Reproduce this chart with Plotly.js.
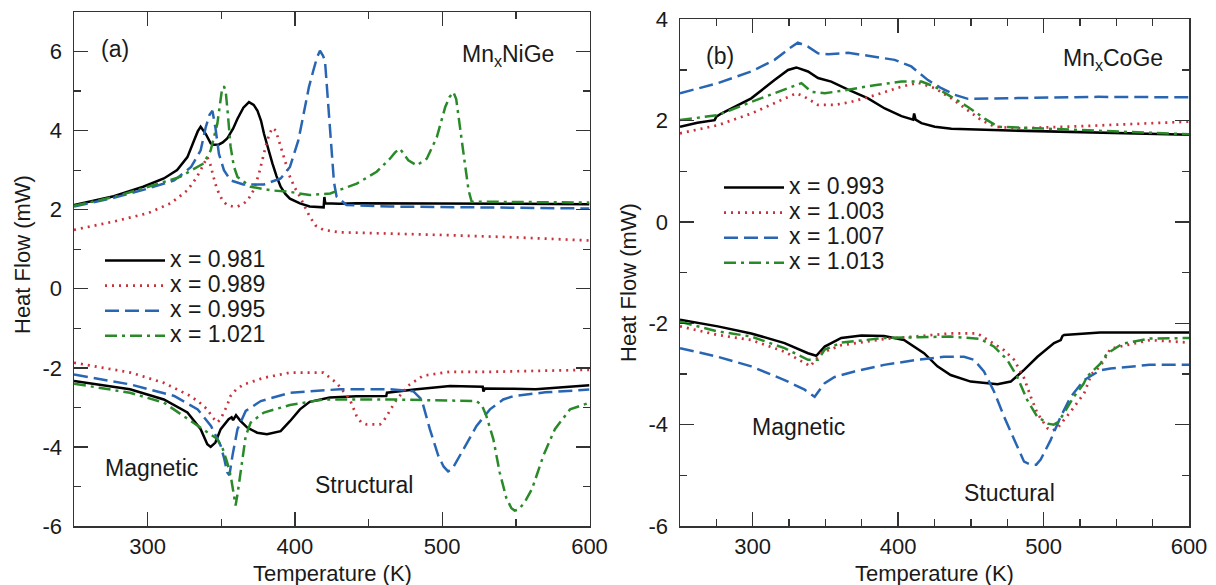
<!DOCTYPE html>
<html>
<head>
<meta charset="utf-8">
<script src="https://cdn.plot.ly/plotly-3.0.1.min.js"></script>
<style>html,body{margin:0;padding:0;background:#fff;}#chart{width:1216px;height:585px;}</style>
</head>
<body>
<div id="chart"></div>
<script>
// ===== Panel (a): MnxNiGe =====
const labelsA = ["x = 0.981", "x = 0.989", "x = 0.995", "x = 1.021"];
// x = 0.981 (upper / lower branch)
const tA981Up = [250, 277, 297, 311, 320, 327, 331.5, 334, 336, 339.4, 342.8, 345, 348.4, 351, 354, 358, 361, 365, 368.8, 372, 374.5, 377, 379, 382, 384.7, 387.5, 390.3, 393.5, 396.6, 403.4, 410, 419.5, 420, 420.6, 430, 442, 500, 550, 600];
const hA981Up = [2.12, 2.34, 2.58, 2.79, 3.0, 3.33, 3.75, 3.98, 4.1, 3.92, 3.68, 3.64, 3.65, 3.7, 3.8, 4.05, 4.3, 4.58, 4.72, 4.65, 4.51, 4.25, 3.92, 3.5, 3.17, 2.85, 2.58, 2.4, 2.28, 2.16, 2.08, 2.06, 2.32, 2.16, 2.15, 2.16, 2.16, 2.15, 2.14];
const tA981Dn = [250, 288, 311, 327, 336, 340.5, 342.8, 346, 349.6, 353, 355, 357, 358, 360, 363, 367.6, 374.4, 381, 390.3, 396.6, 403.4, 410, 423.7, 441.9, 462, 462.5, 482.7, 505.3, 527.5, 528, 529, 548.6, 563.5, 600];
const hA981Dn = [-2.33, -2.54, -2.8, -3.13, -3.55, -3.93, -4.0, -3.89, -3.55, -3.38, -3.3, -3.25, -3.32, -3.2, -3.34, -3.51, -3.64, -3.68, -3.6, -3.35, -3.05, -2.86, -2.75, -2.72, -2.71, -2.63, -2.54, -2.46, -2.48, -2.6, -2.52, -2.53, -2.54, -2.44];
// x = 0.989
const tA989Up = [250, 277, 300, 315.6, 327, 333, 336, 338.5, 340.5, 342.5, 344, 346, 348.4, 351, 354, 358, 361, 365, 368, 372, 375.6, 378, 380, 382.5, 384.7, 387, 389, 393, 396.6, 400, 403.4, 407, 410, 414, 419.3, 430, 442, 500, 550, 600];
const hA989Up = [1.49, 1.70, 1.91, 2.16, 2.49, 2.8, 3.0, 3.2, 3.33, 3.15, 2.91, 2.65, 2.41, 2.22, 2.12, 2.08, 2.08, 2.15, 2.24, 2.5, 2.91, 3.3, 3.58, 3.9, 4.07, 4.0, 3.75, 3.25, 2.83, 2.55, 2.33, 2.05, 1.83, 1.6, 1.49, 1.43, 1.42, 1.36, 1.30, 1.22];
const tA989Dn = [250, 288.4, 311, 329, 336, 340.5, 344, 347.3, 349.5, 351.8, 354, 356.3, 360, 365.3, 379, 396.6, 419.3, 428.3, 437.3, 441.9, 445, 448.7, 457.7, 460, 462.3, 469, 478, 487, 505, 532.7, 600];
const hA989Dn = [-1.87, -2.12, -2.38, -2.71, -2.9, -3.05, -3.25, -3.38, -3.3, -3.13, -2.95, -2.71, -2.55, -2.42, -2.25, -2.12, -2.12, -2.38, -2.8, -3.22, -3.38, -3.43, -3.43, -3.35, -3.22, -2.8, -2.42, -2.2, -2.1, -2.1, -2.05];
// x = 0.995
const tA995Up = [250, 277, 297, 318, 329.5, 336, 339.4, 342, 344, 346, 348.4, 351.8, 356.3, 365, 379, 390.3, 396.6, 402.3, 406.8, 409.5, 412.5, 415, 417, 419, 420.4, 421.5, 422.6, 424.9, 426.5, 428.3, 435, 464.5, 500, 550, 600];
const hA995Up = [2.08, 2.3, 2.5, 2.74, 3.08, 3.5, 4.08, 4.4, 4.5, 4.08, 3.41, 3.0, 2.74, 2.64, 2.64, 2.79, 3.08, 3.75, 4.59, 5.1, 5.52, 5.85, 6.02, 5.9, 5.77, 5.2, 4.59, 3.33, 2.7, 2.33, 2.12, 2.08, 2.06, 2.05, 2.03];
const tA995Dn = [250, 288.4, 318, 334, 343, 349.6, 352, 354, 355.5, 357.6, 361, 366.6, 376.8, 396.6, 430.6, 464.5, 480.3, 486, 491.6, 497.3, 501, 504, 507, 514.3, 523.3, 532.4, 541.4, 548.6, 570, 600];
const hA995Dn = [-2.17, -2.42, -2.71, -3.05, -3.47, -3.97, -4.3, -4.64, -4.72, -4.22, -3.55, -3.09, -2.84, -2.63, -2.54, -2.54, -2.59, -2.8, -3.55, -4.22, -4.5, -4.62, -4.55, -4.05, -3.47, -3.05, -2.8, -2.71, -2.62, -2.55];
// x = 1.021
const tA1021Up = [250, 277, 297, 322, 338, 342.8, 347.3, 349.5, 350.7, 352, 353, 354.5, 356.3, 358.5, 361, 370, 383.6, 396.6, 410, 424, 442, 455.5, 464.5, 468, 471.3, 474, 477, 482.7, 489.5, 496.3, 502, 505, 507.6, 509.5, 511, 514.5, 517.9, 520, 532.7, 600];
const hA1021Up = [2.1, 2.32, 2.54, 2.83, 3.17, 3.5, 4.17, 4.8, 5.1, 5.1, 5.0, 4.4, 3.6, 3.1, 2.83, 2.58, 2.49, 2.45, 2.37, 2.41, 2.66, 2.96, 3.29, 3.45, 3.54, 3.4, 3.25, 3.12, 3.29, 3.83, 4.59, 4.85, 4.97, 4.8, 4.42, 3.41, 2.49, 2.2, 2.2, 2.18];
const tA1021Dn = [250, 288, 311, 324.6, 338, 347.3, 351, 354, 356.5, 358.6, 359.7, 361, 363, 366.6, 370, 379, 396.6, 419.3, 464.5, 523.3, 527, 530, 534.7, 539, 543.6, 547, 549.2, 552, 556, 561, 568.7, 576.5, 586.8, 600];
const hA1021Dn = [-2.4, -2.63, -2.88, -3.22, -3.55, -3.8, -4.05, -4.39, -4.75, -5.2, -5.48, -5.2, -4.64, -3.72, -3.38, -3.13, -2.94, -2.8, -2.8, -2.84, -2.95, -3.22, -3.8, -4.64, -5.3, -5.55, -5.61, -5.58, -5.4, -5.06, -4.22, -3.55, -3.05, -2.88];

// ===== Panel (b): MnxCoGe =====
const labelsB = ["x = 0.993", "x = 1.003", "x = 1.007", "x = 1.013"];
const tB993Up = [250, 262, 273.8, 275, 278.4, 299, 315, 324.3, 330, 338, 344.9, 354, 365.6, 379.3, 390.8, 402.3, 410.3, 411, 412, 416, 425.2, 436.6, 471, 537.5, 600];
const hB993Up = [1.88, 1.96, 2.01, 2.08, 2.14, 2.44, 2.8, 3.0, 3.05, 2.97, 2.84, 2.77, 2.61, 2.44, 2.24, 2.09, 2.02, 2.14, 2.02, 1.95, 1.88, 1.84, 1.81, 1.76, 1.72];
const tB993Dn = [250, 276, 299, 321.9, 338, 343.7, 349.5, 360.9, 374.7, 390.3, 404, 417.8, 427, 436.1, 449.9, 468.3, 477.4, 486.6, 495.8, 507.2, 511.8, 513, 514.1, 527.9, 538.9, 600];
const hB993Dn = [-1.93, -2.06, -2.2, -2.39, -2.59, -2.64, -2.46, -2.29, -2.24, -2.25, -2.33, -2.59, -2.85, -3.02, -3.15, -3.2, -3.15, -2.92, -2.66, -2.39, -2.33, -2.25, -2.23, -2.2, -2.18, -2.18];
const tB1003Up = [250, 276, 299, 317.4, 330, 335.7, 344.9, 356.3, 367.8, 383.8, 402.3, 413.7, 425.2, 436.6, 448, 457.2, 466.4, 482.4, 516.8, 560, 600];
const hB1003Up = [1.75, 1.91, 2.14, 2.37, 2.54, 2.47, 2.31, 2.31, 2.37, 2.5, 2.67, 2.75, 2.64, 2.44, 2.21, 2.01, 1.88, 1.85, 1.88, 1.93, 1.98];
const tB1003Dn = [250, 276, 299, 321.9, 338, 339.5, 347, 361, 390.3, 413.2, 436, 454.5, 463.7, 472.8, 479.7, 486.6, 491.2, 495.8, 502.7, 506, 509.5, 518.7, 527.9, 533, 539, 546, 573.2, 600];
const hB1003Dn = [-2.06, -2.23, -2.33, -2.56, -2.82, -2.85, -2.59, -2.43, -2.31, -2.26, -2.2, -2.2, -2.36, -2.53, -2.72, -3.08, -3.45, -3.78, -4.07, -4.12, -4.07, -3.74, -3.38, -3.0, -2.85, -2.5, -2.33, -2.38];
const tB1007Up = [250, 276, 299, 315, 325.4, 331, 338, 344.9, 351.8, 365.6, 379.3, 397.6, 409, 420.5, 429.7, 438.9, 448, 471, 537.5, 600];
const hB1007Up = [2.54, 2.74, 2.97, 3.2, 3.43, 3.54, 3.46, 3.33, 3.31, 3.34, 3.28, 3.2, 3.07, 2.8, 2.64, 2.51, 2.43, 2.44, 2.47, 2.46];
const tB1007Dn = [250, 276, 299, 321.9, 335.7, 342.6, 349.5, 356.3, 370, 390.3, 413.2, 431.5, 445.3, 452.2, 459, 466, 472.8, 479.7, 486.6, 491.1, 495, 498, 504.9, 511.8, 518.7, 527.9, 538.9, 546, 573, 600];
const hB1007Dn = [-2.49, -2.66, -2.85, -3.12, -3.31, -3.45, -3.18, -3.06, -2.95, -2.82, -2.72, -2.66, -2.66, -2.72, -2.95, -3.35, -3.84, -4.3, -4.73, -4.79, -4.79, -4.69, -4.3, -3.84, -3.45, -3.12, -2.93, -2.89, -2.82, -2.82];
const tB1013Up = [250, 276, 299, 317.4, 333.5, 340.4, 349.6, 365.6, 383.8, 402.3, 416, 425.2, 436.6, 448, 459.5, 468.7, 493.9, 537.5, 600];
const hB1013Up = [2.01, 2.11, 2.37, 2.57, 2.74, 2.57, 2.54, 2.61, 2.7, 2.77, 2.77, 2.67, 2.47, 2.27, 2.04, 1.88, 1.85, 1.8, 1.73];
const tB1013Dn = [250, 276, 299, 321.9, 338, 344.9, 349.5, 361, 390.3, 413.2, 436, 456.8, 466, 475, 481.8, 488.7, 495.6, 503, 507, 510, 513.9, 520.8, 527.4, 530, 538.9, 543.6, 554.4, 573.2, 600];
const hB1013Dn = [-1.97, -2.16, -2.26, -2.49, -2.72, -2.72, -2.52, -2.38, -2.29, -2.28, -2.26, -2.31, -2.46, -2.72, -3.05, -3.51, -3.84, -3.98, -4.0, -3.95, -3.78, -3.45, -3.2, -3.05, -2.8, -2.6, -2.4, -2.3, -2.29];

const yTickVals = [-6, -4, -2, 0, 2, 4, 6];
const yTickText = ["-6", "-4", "-2", "0", "2", "4", "6"];

// ===== styles =====
const FONT = "Liberation Sans, Arial, Helvetica, sans-serif";
const FS = 23;
const TFS = 22;
const TXT = "#1a1a1a";
const styles = [
  {color: "#000000", dash: "solid", width: 2.5},
  {color: "#c8323a", dash: "2px,5px", width: 2.7},
  {color: "#2866b3", dash: "14px,6px", width: 2.5},
  {color: "#2a8a2a", dash: "12px,5px,3px,5px", width: 2.5}
];

const big = s => '<span style="font-size:' + FS + 'px">' + s + '</span>';

const traces = [];
function addPair(tUp, hUp, tDn, hDn, i, name, xa, ya, leg) {
  traces.push({x: tUp, y: hUp, type: "scatter", mode: "lines", name: big(name),
    xaxis: xa, yaxis: ya, legend: leg, line: Object.assign({}, styles[i]), showlegend: true});
  traces.push({x: tDn, y: hDn, type: "scatter", mode: "lines", name: big(name),
    xaxis: xa, yaxis: ya, legend: leg, line: Object.assign({}, styles[i]), showlegend: false});
}
addPair(tA981Up, hA981Up, tA981Dn, hA981Dn, 0, labelsA[0], "x", "y", "legend");
addPair(tA989Up, hA989Up, tA989Dn, hA989Dn, 1, labelsA[1], "x", "y", "legend");
addPair(tA995Up, hA995Up, tA995Dn, hA995Dn, 2, labelsA[2], "x", "y", "legend");
addPair(tA1021Up, hA1021Up, tA1021Dn, hA1021Dn, 3, labelsA[3], "x", "y", "legend");
addPair(tB993Up, hB993Up, tB993Dn, hB993Dn, 0, labelsB[0], "x2", "y2", "legend2");
addPair(tB1003Up, hB1003Up, tB1003Dn, hB1003Dn, 1, labelsB[1], "x2", "y2", "legend2");
addPair(tB1007Up, hB1007Up, tB1007Dn, hB1007Dn, 2, labelsB[2], "x2", "y2", "legend2");
addPair(tB1013Up, hB1013Up, tB1013Dn, hB1013Dn, 3, labelsB[3], "x2", "y2", "legend2");

const W = 1216, H = 585;
const px = v => v / W;
const py = v => 1 - v / H;

function xAxis(domain, minorStep) {
  return {
    domain: domain, range: [250, 600], tick0: 0, dtick: 100,
    ticks: "inside", ticklen: 14, tickwidth: 1.3, tickcolor: "#333",
    showline: true, linecolor: "#333", linewidth: 1.5, mirror: "allticks",
    showgrid: false, zeroline: false,
    minor: {dtick: minorStep, tick0: 0, ticks: "inside", ticklen: 7, tickwidth: 1.3, tickcolor: "#333", showgrid: false},
    tickfont: {family: FONT, size: TFS, color: TXT},
    ticklabelstandoff: 0,
    automargin: false
  };
}
function yAxis(domain, range, anchor) {
  return {
    domain: domain, range: range, anchor: anchor,
    tickmode: "array", tickvals: yTickVals, ticktext: yTickText,
    ticks: "inside", ticklen: 14, tickwidth: 1.3, tickcolor: "#333",
    showline: true, linecolor: "#333", linewidth: 1.5, mirror: "allticks",
    showgrid: false, zeroline: false,
    minor: {dtick: 1, tick0: 0, ticks: "inside", ticklen: 7, tickwidth: 1.3, tickcolor: "#333", showgrid: false},
    tickfont: {family: FONT, size: TFS, color: TXT},
    ticklabelstandoff: 6,
    automargin: false
  };
}

const ann = (x, y, text, extra) => Object.assign({xref: "paper", yref: "paper", x: px(x), y: py(y), text: text,
  showarrow: false, xanchor: "center", yanchor: "middle", font: {family: FONT, size: FS, color: TXT}}, extra || {});

const layout = {
  width: W, height: H,
  margin: {l: 0, r: 0, t: 0, b: 0},
  paper_bgcolor: "#ffffff", plot_bgcolor: "#ffffff",
  showlegend: true,
  xaxis: xAxis([px(74), px(589.5)], 50),
  yaxis: yAxis([py(526), py(12)], [-6, 7], "x"),
  xaxis2: Object.assign(xAxis([px(680), px(1189)], 25), {anchor: "y2"}),
  yaxis2: yAxis([py(526), py(19.3)], [-6, 4], "x2"),
  legend: {x: px(100), y: py(243), xanchor: "left", yanchor: "top", bgcolor: "rgba(0,0,0,0)",
    font: {family: FONT, size: 17, color: TXT}, itemwidth: 60, tracegroupgap: 0},
  legend2: {x: px(719), y: py(170), xanchor: "left", yanchor: "top", bgcolor: "rgba(0,0,0,0)",
    font: {family: FONT, size: 17, color: TXT}, itemwidth: 60, tracegroupgap: 0},
  annotations: [
    ann(22, 255, "Heat Flow (mW)", {textangle: -90, font: {family: FONT, size: TFS, color: TXT}}),
    ann(628, 283, "Heat Flow (mW)", {textangle: -90, font: {family: FONT, size: TFS, color: TXT}}),
    ann(332, 573, "Temperature (K)", {font: {family: FONT, size: TFS, color: TXT}}),
    ann(934, 573, "Temperature (K)", {font: {family: FONT, size: TFS, color: TXT}}),
    ann(115, 49, "(a)"),
    ann(508, 56, "Mn<sub>x</sub>NiGe"),
    ann(151, 468, "Magnetic"),
    ann(364, 485, "Structural"),
    ann(720, 56, "(b)"),
    ann(1113, 60, "Mn<sub>x</sub>CoGe"),
    ann(798, 427, "Magnetic"),
    ann(1009, 493, "Stuctural")
  ]
};

Plotly.newPlot("chart", traces, layout, {displayModeBar: false, staticPlot: true});
</script>
</body>
</html>
